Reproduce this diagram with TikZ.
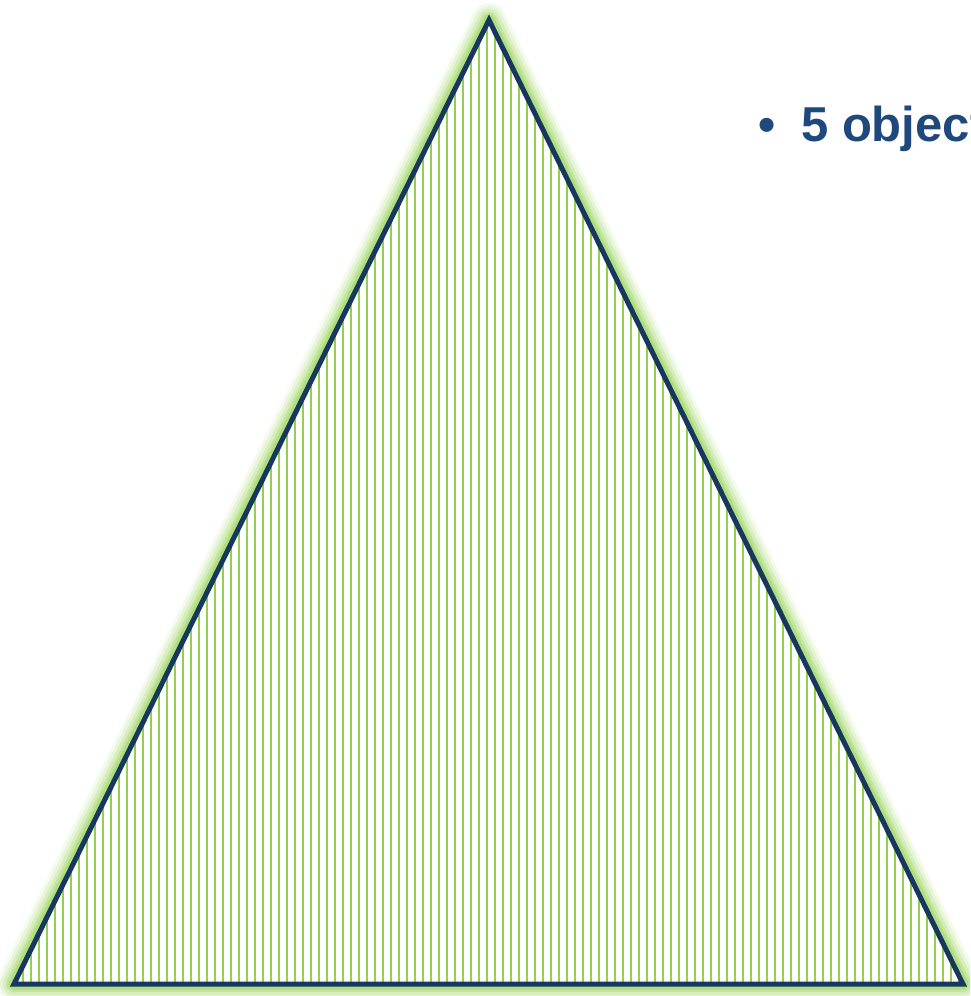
\documentclass[tikz,border=0pt]{standalone}
\usepackage{fontspec}
\setmainfont{Liberation Sans}
\definecolor{navy}{HTML}{17375E}
\definecolor{stripe}{HTML}{92D050}
\definecolor{txt}{HTML}{1F497D}
\begin{document}
\begin{tikzpicture}[x=1pt,y=-1pt,
  edge/.style={draw=navy,line width=5pt,line join=miter},
  glow/.style={draw=stripe,line join=round}]
\clip (0,0) rectangle (970,996);
\useasboundingbox (0,0) rectangle (970,996);
\coordinate (A) at (489,20);
\coordinate (B) at (14,984);
\coordinate (C) at (963,984);
% glow
\foreach \w/\o in {34/0.10,28/0.14,22/0.2,16/0.28,11/0.4} {
  \draw[glow,line width=\w pt,opacity=\o] (A) -- (B) -- (C) -- cycle;
}
% stripes
\begin{scope}
\clip (A) -- (B) -- (C) -- cycle;
\fill[white] (A) -- (B) -- (C) -- cycle;
\foreach \x in {15,23,...,967} {
  \draw[stripe,line width=2.4pt] (\x,0) -- (\x,996);
}
\end{scope}
\draw[edge] (A) -- (B) -- (C) -- cycle;
\node[anchor=base west,inner sep=0pt,text=txt,font=\fontsize{49}{58}\selectfont\bfseries] (bul) at (758,141) {•};
\node[anchor=base west,inner sep=0pt,text=txt,font=\fontsize{49}{58}\selectfont\bfseries] (t) at (801,141) {5 objects};
\end{tikzpicture}
\end{document}
